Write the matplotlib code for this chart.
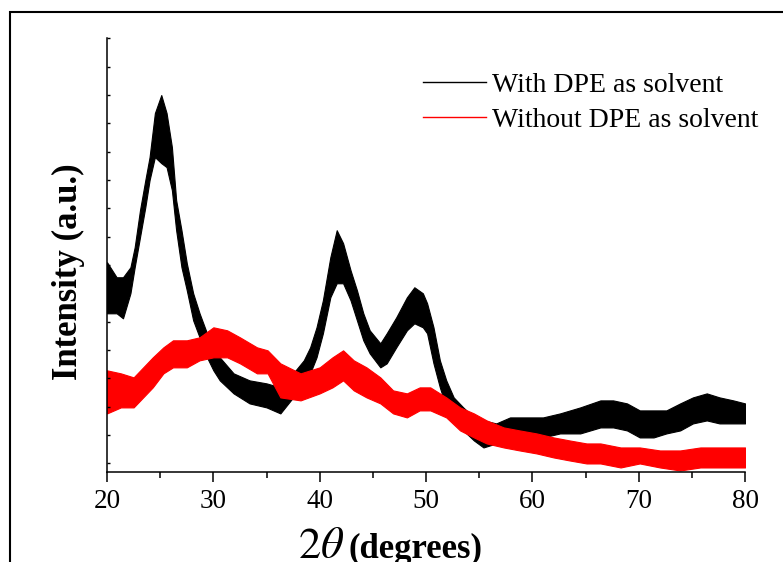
import numpy as np
import matplotlib
matplotlib.use('Agg')
import matplotlib.pyplot as plt
from matplotlib.lines import Line2D
from matplotlib.patches import Rectangle

plt.rcParams['font.family'] = 'Liberation Serif'
plt.rcParams['mathtext.fontset'] = 'stix'

# XRD data: noise band (low / high) of each trace, a.u.
x_with = [20.0, 20.9, 21.5, 22.2, 22.6, 23.1, 23.6, 24.0, 24.5, 25.1, 25.6, 26.1,
          26.5, 27.0, 27.5, 28.1, 28.7, 29.4, 30.0, 30.6, 31.9, 33.4, 35.0, 36.3,
          37.5, 38.5, 39.1, 39.7, 40.3, 41.0, 41.6, 42.2, 42.9, 43.5, 44.1, 44.7,
          45.7, 46.3, 47.2, 48.2, 48.9, 49.7, 50.1, 50.7, 51.3, 51.9, 52.6, 53.5,
          54.5, 55.4, 56.6, 57.9, 59.5, 61.0, 62.6, 64.5, 66.4, 67.6, 68.9, 70.1,
          71.4, 72.6, 73.9, 75.1, 76.4, 77.6, 78.9, 80.0]
hi_with = [210, 195, 195, 205, 225, 262, 292, 315, 359, 377, 359, 325,
           272, 242, 209, 179, 159, 139, 125, 115, 99, 92, 89, 85,
           99, 112, 125, 145, 172, 215, 242, 229, 202, 182, 159, 142,
           129, 139, 155, 175, 185, 179, 169, 145, 112, 92, 75, 65,
           55, 52, 49, 55, 55, 55, 59, 65, 72, 72, 69, 62,
           62, 62, 69, 75, 79, 75, 72, 69]
lo_with = [159, 159, 154, 179, 205, 235, 265, 292, 315, 309, 305, 282,
           242, 205, 182, 152, 135, 115, 102, 92, 79, 69, 65, 59,
           75, 85, 99, 115, 139, 175, 189, 189, 172, 152, 132, 119,
           105, 109, 125, 142, 149, 145, 139, 109, 85, 65, 52, 42,
           32, 25, 29, 32, 35, 35, 39, 39, 45, 45, 42, 35,
           35, 39, 42, 49, 52, 49, 49, 49]

x_without = [20.0, 21.3, 22.5, 23.4, 24.3, 25.3, 26.2, 27.5, 28.7, 30.0, 31.3, 32.5,
             34.1, 35.1, 36.3, 38.2, 40.0, 41.2, 42.2, 43.2, 44.4, 45.7, 46.9, 48.2,
             49.4, 50.4, 51.9, 53.2, 54.5, 55.7, 57.3, 58.8, 60.4, 62.0, 63.5, 65.1,
             66.4, 68.3, 70.1, 72.0, 73.9, 75.8, 77.6, 80.0]
hi_without = [102, 99, 95, 105, 115, 125, 132, 132, 135, 145, 142, 135,
              125, 122, 109, 99, 105, 115, 122, 112, 105, 95, 82, 79,
              85, 85, 75, 65, 59, 52, 45, 42, 39, 35, 32, 29,
              29, 25, 25, 22, 22, 25, 25, 25]
lo_without = [59, 65, 65, 75, 85, 99, 105, 105, 112, 115, 115, 109,
              99, 99, 75, 72, 79, 85, 92, 82, 75, 69, 59, 55,
              62, 62, 55, 42, 35, 29, 25, 22, 19, 15, 12, 9,
              9, 5, 9, 5, 2, 5, 5, 5]

labels = ['With DPE as solvent', 'Without DPE as solvent']
xticks = [20, 30, 40, 50, 60, 70, 80]

fig = plt.figure(figsize=(7.83, 5.62), dpi=100)
ax = fig.add_axes([0.1367, 0.1593, 0.8148, 0.7731])

ax.fill_between(x_with, lo_with, hi_with, color='black', lw=0.8)
ax.fill_between(x_without, lo_without, hi_without, color='red', lw=0.8)

ax.set_xlim(20, 80)
ax.set_ylim(0, 434)
ax.set_xticks(xticks)
ax.set_xticks(np.arange(25, 80, 10), minor=True)
ax.set_yticks(np.arange(9, 434, 28.3))
ax.set_yticklabels([])
ax.tick_params(axis='x', which='major', direction='out', length=7, width=1.1,
               labelsize=19.5, pad=5)
ax.tick_params(axis='x', which='minor', direction='out', length=4, width=1.1)
ax.tick_params(axis='y', direction='in', length=2.5, width=1)
for s in ['top', 'right']:
    ax.spines[s].set_visible(False)
for s in ['left', 'bottom']:
    ax.spines[s].set_linewidth(1.1)

ax.set_ylabel('Intensity (a.u.)', fontsize=25, fontweight='bold')
ax.yaxis.set_label_coords(-0.035, 0.463)

# x label: big 2theta + bold (degrees)
fig.text(298 / 783, 4 / 562, r'$2\theta$', fontsize=32, ha='left', va='baseline')
fig.text(348 / 783, 4 / 562, '(degrees)', fontsize=25, fontweight='bold',
         ha='left', va='baseline')

handles = [Line2D([], [], color='black', lw=1), Line2D([], [], color='red', lw=1)]
ax.legend(handles, labels, loc='center left', bbox_to_anchor=(423 / 783, 0.8176),
          bbox_transform=fig.transFigure, frameon=False, fontsize=20,
          borderpad=0, borderaxespad=0, handlelength=2.25, handletextpad=0.25,
          labelspacing=0.36)

# outer frame
fig.add_artist(Rectangle((9.5 / 783, -0.5), 2, 0.5 + 550 / 562, transform=fig.transFigure,
                         fill=False, edgecolor='black', lw=1.5, clip_on=False))

fig.savefig('out.png', dpi=100)
